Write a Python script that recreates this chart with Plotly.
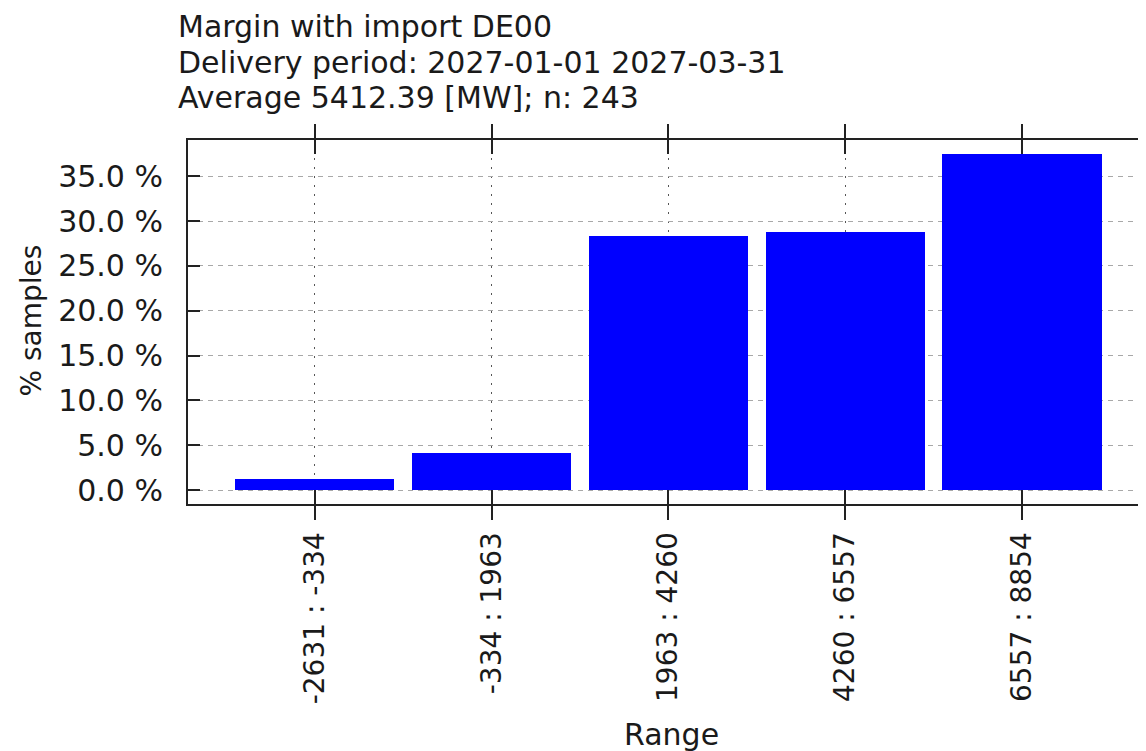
import plotly.graph_objects as go

categories = ["-2631 : -334", "-334 : 1963", "1963 : 4260", "4260 : 6557", "6557 : 8854"]
percent_samples = [1.23, 4.12, 28.40, 28.81, 37.45]
y_ticks = [0, 5, 10, 15, 20, 25, 30, 35]
y_tick_labels = ["0.0 %", "5.0 %", "10.0 %", "15.0 %", "20.0 %", "25.0 %", "30.0 %", "35.0 %"]
title_lines = ["Margin with import DE00", "Delivery period: 2027-01-01 2027-03-31", "Average 5412.39 [MW]; n: 243"]

OFF = 8  # page body margin
W, H = 1146 - OFF, 751 - OFF
L, R, T, B = 187.5 - OFF, 0, 140 - OFF, H - (504 - OFF)
PW, PH = W - L - R, H - T - B
FONT = "DejaVu Sans"
TXT = "#1a1a1a"
FS_H = 30   # horizontal texts
FS_V = 28   # rotated texts


def px(xs):
    return (xs - OFF - L) / PW


def py(ys):
    return (H - B - (ys - OFF)) / PH


xidx = list(range(len(categories)))

fig = go.Figure()
fig.add_trace(go.Bar(x=xidx, y=percent_samples, width=0.9,
                     marker=dict(color="#0000ff", line=dict(width=0)),
                     showlegend=False, hoverinfo="skip"))
# invisible helper trace for mirrored right-side ticks
fig.add_trace(go.Scatter(x=[xidx[0]], y=[percent_samples[0]], yaxis="y2", mode="markers",
                         marker=dict(opacity=0), showlegend=False, hoverinfo="skip"))

yr = [-1.5625, 39.06]
fig.update_layout(
    width=W, height=H,
    margin=dict(l=L, r=R, t=T, b=B, pad=0),
    plot_bgcolor="white", paper_bgcolor="white",
    font=dict(family=FONT, size=FS_H, color=TXT),
    bargap=0,
    xaxis=dict(
        range=[-0.717, 4.701],
        tickmode="array", tickvals=xidx, ticktext=categories,
        tickangle=-90,
        ticks="inside", ticklen=14, tickwidth=1.5, tickcolor="#222",
        showline=True, linecolor="#222", linewidth=2, mirror="allticks",
        showgrid=True, gridcolor="#555", gridwidth=1, griddash="2px,7px",
        zeroline=False,
        tickfont=dict(family=FONT, size=FS_V, color=TXT),
        ticklabelstandoff=15,
    ),
    yaxis=dict(
        range=yr,
        tickmode="array", tickvals=y_ticks, ticktext=y_tick_labels,
        ticks="inside", ticklen=12, tickwidth=1.5, tickcolor="#222",
        showline=True, linecolor="#222", linewidth=2, mirror=False,
        showgrid=True, gridcolor="#a8a8a8", gridwidth=1.2, griddash="5px,5px",
        zeroline=False,
        tickfont=dict(family=FONT, size=FS_H, color=TXT),
        ticklabelstandoff=17,
    ),
    yaxis2=dict(
        range=yr, overlaying="y", side="right",
        tickmode="array", tickvals=y_ticks, showticklabels=False,
        ticks="inside", ticklen=8, tickwidth=1.5, tickcolor="#222",
        showline=False, showgrid=False, zeroline=False,
    ),
)

annotations = []
title_centers = [23, 59, 94]
for line, yc in zip(title_lines, title_centers):
    annotations.append(dict(text=line, x=px(175), y=py(yc + 3), xref="paper", yref="paper",
                            xanchor="left", yanchor="middle", align="left", showarrow=False,
                            font=dict(family=FONT, size=FS_H, color=TXT)))
annotations += [
    dict(text="Range", x=px(671), y=py(734), xref="paper", yref="paper",
         xanchor="center", yanchor="middle", showarrow=False,
         font=dict(family=FONT, size=FS_H, color=TXT)),
    dict(text="% samples", x=px(30), y=py(321), xref="paper", yref="paper",
         xanchor="center", yanchor="middle", textangle=-90, showarrow=False,
         font=dict(family=FONT, size=FS_V, color=TXT)),
]
fig.update_layout(annotations=annotations)

fig.write_html("out.html")
